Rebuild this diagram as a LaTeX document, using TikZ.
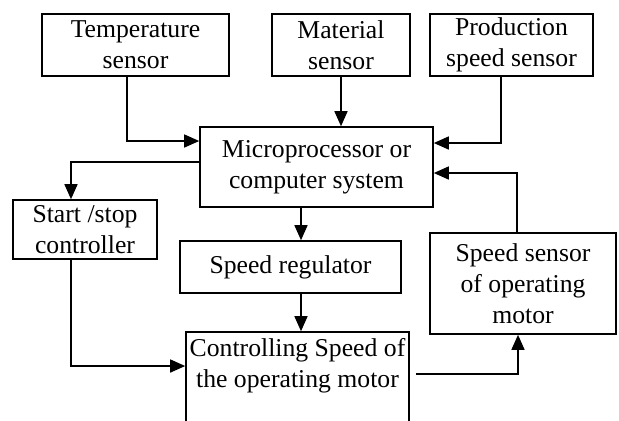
\documentclass[tikz,border=0pt]{standalone}
\usepackage{fontspec}
\setmainfont{Liberation Serif}
\usetikzlibrary{arrows.meta}

\begin{document}
\begin{tikzpicture}[
    x=0.5pt, y=-0.5pt,
    block/.style={rectangle, draw, line width=0.8pt, inner sep=1pt, align=center, font=\fontsize{12.85}{15.5}\selectfont},
    arrow/.style={-{Triangle[length=7.5pt, width=6.5pt]}, line width=0.75pt}
]
\useasboundingbox (0,0) rectangle (619,420);

% Sensors on top
\node[block, minimum width=93.5pt, minimum height=31pt] (temp) at (135.5,45) {Temperature\\sensor};
\node[block, minimum width=69pt, minimum height=31pt] (mat) at (341,45) {Material\\sensor};
\node[block, minimum width=81.5pt, minimum height=31pt] (prod) at (511.5,45) {Production\\speed sensor};

% Microprocessor
\node[block, minimum width=116.5pt, minimum height=40pt] (micro) at (316.5,167) {Microprocessor or\\computer system};

% Start/stop controller
\node[block, minimum width=72pt, minimum height=29.5pt] (start) at (85,229.5) {Start /stop\\controller};

% Speed regulator
\node[block, minimum width=110.5pt, minimum height=26pt] (reg) at (290.5,267) {Speed regulator};

% Speed sensor of the motor
\node[block, minimum width=93pt, minimum height=50.5pt] (sensor) at (523,283.5) {Speed sensor\\of operating\\motor};

% Motor speed control
\node[block, minimum width=111.5pt, minimum height=46pt] (control) at (297.5,378) {Controlling Speed of\\the operating motor\\~};

% Arrows
\draw[arrow] ([xshift=-4.25pt]temp.south) |- ([yshift=13pt]micro.west);
\draw[arrow] (mat.south) -- (mat.south |- micro.north);
\draw[arrow] ([xshift=-5.25pt]prod.south) |- ([yshift=12pt]micro.east);
\draw[arrow] ([yshift=2.5pt]micro.west) -| ([xshift=-7pt]start.north);
\draw[arrow] ([xshift=-7pt]start.south) |- ([yshift=6pt]control.west);
\draw[arrow] ([xshift=-7.75pt]micro.south) -- ([xshift=-7.75pt]micro.south |- reg.north);
\draw[arrow] ([xshift=-7.75pt]micro.south |- reg.south) -- ([xshift=-7.75pt]micro.south |- control.north);
\draw[arrow] ([xshift=3pt,yshift=2pt]control.east) -| ([xshift=-2.5pt]sensor.south);
\draw[arrow] ([xshift=-3pt]sensor.north) |- ([yshift=-3pt]micro.east);

\end{tikzpicture}
\end{document}
